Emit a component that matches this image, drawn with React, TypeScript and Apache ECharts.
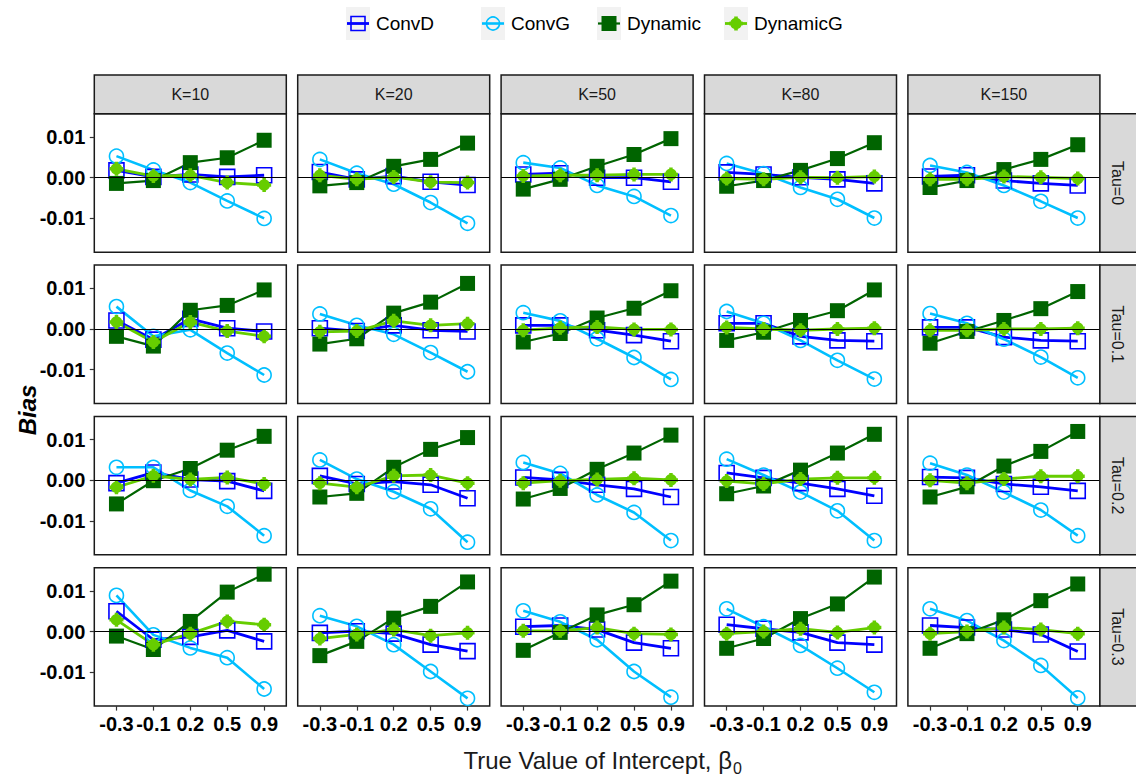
import React, { useEffect, useRef } from "react";
import * as echarts from "echarts";

const betaLabels = ["-0.3", "-0.1", "0.2", "0.5", "0.9"];
const kLabels = ["K=10", "K=20", "K=50", "K=80", "K=150"];
const tauLabels = ["Tau=0", "Tau=0.1", "Tau=0.2", "Tau=0.3"];
const methods = ["ConvD", "ConvG", "Dynamic", "DynamicG"];
const yTicks = [-0.01, 0, 0.01];

// rows of each array: K = 10, 20, 50, 80, 150 ; columns: beta0 = -0.3, -0.1, 0.2, 0.5, 0.9
const convD_t0 = [
  [0.0018, 0.0002, 0.0008, 0.0002, 0.0006],
  [0.0014, -0.0004, 0.0004, -0.001, -0.0018],
  [0.0008, 0.0011, 0.0, 0.0, -0.001],
  [0.0013, 0.0008, 0.0001, -0.0004, -0.0014],
  [0.0003, 0.0006, -0.0007, -0.0014, -0.0019],
];
const convG_t0 = [
  [0.0053, 0.0019, -0.0012, -0.0057, -0.01],
  [0.0045, 0.0011, -0.0016, -0.0061, -0.0112],
  [0.0037, 0.0024, -0.0019, -0.0046, -0.0093],
  [0.0035, 0.001, -0.0024, -0.0053, -0.0099],
  [0.003, 0.0013, -0.0019, -0.0058, -0.0099],
];
const dynamic_t0 = [
  [-0.0014, -0.0007, 0.0037, 0.0049, 0.0092],
  [-0.002, -0.0012, 0.0028, 0.0045, 0.0085],
  [-0.0028, -0.0004, 0.0028, 0.0057, 0.0096],
  [-0.0021, -0.0007, 0.0018, 0.0047, 0.0086],
  [-0.0024, -0.0007, 0.002, 0.0045, 0.0081],
];
const dynamicG_t0 = [
  [0.0022, 0.0004, 0.0006, -0.0012, -0.0018],
  [0.0006, -0.0004, 0.0002, -0.0011, -0.0012],
  [0.0004, 0.0006, 0.0006, 0.0008, 0.0008],
  [-0.0002, -0.0004, 0.0001, 0.0, 0.0003],
  [-0.0004, -0.0004, 0.0003, 0.0001, -0.0002],
];

const convD_t1 = [
  [0.0021, -0.0026, 0.0025, 0.0002, -0.0006],
  [0.0002, -0.0005, 0.0009, -0.0003, -0.0006],
  [0.0009, 0.0009, -0.0003, -0.0015, -0.003],
  [0.0014, 0.0014, -0.0018, -0.0028, -0.003],
  [0.0004, 0.0004, -0.002, -0.0028, -0.003],
];
const convG_t1 = [
  [0.0055, -0.0018, -0.0002, -0.0059, -0.0113],
  [0.0037, 0.0009, -0.0013, -0.0058, -0.0105],
  [0.004, 0.002, -0.0024, -0.007, -0.0124],
  [0.0043, 0.0014, -0.0028, -0.0077, -0.0123],
  [0.0038, 0.0014, -0.0025, -0.0069, -0.012],
];
const dynamic_t1 = [
  [-0.0018, -0.0042, 0.0046, 0.0058, 0.0096],
  [-0.0037, -0.0024, 0.0039, 0.0066, 0.0112],
  [-0.0032, -0.0011, 0.0027, 0.0051, 0.0094],
  [-0.0028, -0.0008, 0.0021, 0.0045, 0.0096],
  [-0.0035, -0.0006, 0.0021, 0.005, 0.0092],
];
const dynamicG_t1 = [
  [0.0017, -0.0032, 0.0017, -0.0005, -0.0018],
  [-0.0007, -0.0005, 0.002, 0.0009, 0.0013],
  [-0.0003, 0.0003, 0.0005, -0.0001, -0.0001],
  [0.0004, 0.0, -0.0003, 0.0, 0.0002],
  [-0.0003, -0.0003, 0.0, 0.0, 0.0002],
];

const convD_t2 = [
  [-0.0007, 0.0019, 0.0002, -0.0002, -0.0026],
  [0.0011, -0.0009, -0.0003, -0.0011, -0.0044],
  [0.0007, 0.0001, -0.0011, -0.0021, -0.0041],
  [0.0018, 0.0006, -0.0007, -0.0021, -0.0038],
  [0.0008, 0.0006, -0.0009, -0.0016, -0.0026],
];
const convG_t2 = [
  [0.0032, 0.0032, -0.0025, -0.0064, -0.0136],
  [0.005, 0.0003, -0.0028, -0.007, -0.0152],
  [0.0044, 0.0017, -0.0036, -0.0079, -0.0148],
  [0.0052, 0.0013, -0.0029, -0.0075, -0.0148],
  [0.0042, 0.0013, -0.0029, -0.0073, -0.0136],
];
const dynamic_t2 = [
  [-0.0058, -0.0001, 0.0029, 0.0074, 0.0108],
  [-0.0041, -0.0032, 0.0032, 0.0076, 0.0105],
  [-0.0046, -0.002, 0.0027, 0.0067, 0.0111],
  [-0.0033, -0.0014, 0.0025, 0.0067, 0.0113],
  [-0.0041, -0.0016, 0.0035, 0.0071, 0.012],
];
const dynamicG_t2 = [
  [-0.0017, 0.0011, 0.0002, 0.0007, -0.0009],
  [-0.0007, -0.0017, 0.0011, 0.0013, -0.0007],
  [-0.0007, -0.0001, 0.0002, 0.0005, 0.0001],
  [-0.0002, -0.0009, 0.0003, 0.0006, 0.0006],
  [0.0, -0.0007, 0.0003, 0.001, 0.001],
];

const convD_t3 = [
  [0.005, -0.002, -0.0013, 0.0003, -0.0024],
  [-0.0003, 0.0001, -0.0005, -0.0032, -0.0048],
  [0.0012, 0.0015, 0.0005, -0.0027, -0.0041],
  [0.0017, 0.0007, -0.0002, -0.0027, -0.0032],
  [0.0015, 0.001, 0.0005, -0.0007, -0.0049],
];
const convG_t3 = [
  [0.0089, -0.0008, -0.004, -0.0064, -0.0141],
  [0.0039, 0.0013, -0.0032, -0.0098, -0.0164],
  [0.0051, 0.0024, -0.002, -0.0098, -0.0161],
  [0.0056, 0.0012, -0.0034, -0.009, -0.0149],
  [0.0056, 0.0027, -0.0022, -0.0083, -0.0163],
];
const dynamic_t3 = [
  [-0.0011, -0.0044, 0.0025, 0.0097, 0.0141],
  [-0.0059, -0.0024, 0.0033, 0.0062, 0.0122],
  [-0.0046, -0.0002, 0.0041, 0.0066, 0.0124],
  [-0.0041, -0.0017, 0.0032, 0.0068, 0.0134],
  [-0.0041, -0.0005, 0.0029, 0.0076, 0.0117],
];
const dynamicG_t3 = [
  [0.0029, -0.0032, -0.0005, 0.0025, 0.0017],
  [-0.0017, -0.0007, 0.0005, -0.001, -0.0003],
  [0.0002, 0.0002, 0.001, -0.0005, -0.0007],
  [-0.0005, 0.0, 0.0007, -0.0002, 0.001],
  [-0.0005, 0.0, 0.001, 0.0005, -0.0005],
];

const dataByTau = [
  [convD_t0, convG_t0, dynamic_t0, dynamicG_t0],
  [convD_t1, convG_t1, dynamic_t1, dynamicG_t1],
  [convD_t2, convG_t2, dynamic_t2, dynamicG_t2],
  [convD_t3, convG_t3, dynamic_t3, dynamicG_t3],
];

const COLORS = ["#0000FF", "#00BFFF", "#006400", "#66CD00"];
const LINE_W = [2.8, 2.6, 2.2, 2.8];
const FONT = '"Liberation Sans", Arial, sans-serif';
// filled circle with a plus through it
const PLUS_CIRCLE =
  "path://M4.5 0H7.5V4.5H12V7.5H7.5V12H4.5V7.5H0V4.5H4.5Z " +
  "M6 1C8.761 1 11 3.239 11 6C11 8.761 8.761 11 6 11C3.239 11 1 8.761 1 6C1 3.239 3.239 1 6 1Z";

const L0 = 94.3;
const CP = 203.4;
const PW = 192;
const T0 = 113.8;
const RP = 151.3;
const PH = 138.4;
const Y_MIN = -0.0183;
const Y_MAX = 0.0157;

function buildOption() {
  const grid: any[] = [];
  const xAxis: any[] = [];
  const yAxis: any[] = [];
  const series: any[] = [];
  const graphic: any[] = [];

  for (let r = 0; r < 4; r++) {
    for (let c = 0; c < 5; c++) {
      const gi = r * 5 + c;
      grid.push({
        left: L0 + c * CP,
        top: T0 + r * RP,
        width: PW,
        height: PH,
        show: true,
        backgroundColor: "#fff",
        borderColor: "#1a1a1a",
        borderWidth: 1.5,
      });
      xAxis.push({
        gridIndex: gi,
        type: "value",
        position: "bottom",
        min: -0.6,
        max: 4.6,
        axisLine: { show: false, onZero: false },
        splitLine: { show: false },
        axisTick: {
          show: r === 3,
          customValues: [0, 1, 2, 3, 4],
          length: 4.5,
          lineStyle: { color: "#333", width: 1.2 },
        },
        axisLabel: {
          show: r === 3,
          customValues: [0, 1, 2, 3, 4],
          formatter: (v: number) => betaLabels[Math.round(v)],
          color: "#000",
          fontWeight: "bold",
          fontSize: 20,
          fontFamily: FONT,
          margin: 8,
        },
      });
      yAxis.push({
        gridIndex: gi,
        type: "value",
        position: "left",
        min: Y_MIN,
        max: Y_MAX,
        axisLine: { show: false, onZero: false },
        splitLine: { show: false },
        axisTick: {
          show: c === 0,
          customValues: yTicks,
          length: 4.5,
          lineStyle: { color: "#333", width: 1.2 },
        },
        axisLabel: {
          show: c === 0,
          customValues: yTicks,
          formatter: (v: number) => v.toFixed(2),
          color: "#000",
          fontWeight: "bold",
          fontSize: 20,
          fontFamily: FONT,
          margin: 9,
        },
      });

      const sets = dataByTau[r];
      methods.forEach((m, mi) => {
        const vals = sets[mi][c];
        const s: any = {
          name: m,
          type: "line",
          xAxisIndex: gi,
          yAxisIndex: gi,
          data: vals.map((v: number, i: number) => [i, v]),
          showSymbol: false,
          symbol: "none",
          silent: true,
          z: 2,
          lineStyle: { color: COLORS[mi], width: LINE_W[mi] },
        };
        if (mi === 0) {
          s.markLine = {
            silent: true,
            symbol: "none",
            label: { show: false },
            lineStyle: { color: "#000", width: 1.2, type: "solid" },
            data: [{ yAxis: 0 }],
          };
        }
        series.push(s);
      });
      methods.forEach((m, mi) => {
        const vals = sets[mi][c];
        const base: any = {
          name: m,
          type: "scatter",
          xAxisIndex: gi,
          yAxisIndex: gi,
          data: vals.map((v: number, i: number) => [i, v]),
          silent: true,
          z: 3,
        };
        if (mi === 0) {
          base.symbol = "rect";
          base.symbolSize = 15;
          base.itemStyle = { color: "rgba(0,0,0,0)", borderColor: COLORS[0], borderWidth: 1.6, opacity: 1 };
        } else if (mi === 1) {
          base.symbol = "circle";
          base.symbolSize = 14;
          base.itemStyle = { color: "rgba(0,0,0,0)", borderColor: COLORS[1], borderWidth: 1.6, opacity: 1 };
        } else if (mi === 2) {
          base.symbol = "rect";
          base.symbolSize = 15;
          base.itemStyle = { color: COLORS[2], opacity: 1 };
        } else {
          base.symbol = PLUS_CIRCLE;
          base.symbolSize = 14;
          base.itemStyle = { color: COLORS[3], opacity: 1 };
        }
        series.push(base);
      });
    }
  }

  kLabels.forEach((k, c) => {
    const x = L0 + c * CP;
    graphic.push({
      type: "rect",
      shape: { x, y: 75, width: PW, height: T0 - 75 },
      style: { fill: "#D9D9D9", stroke: "#1a1a1a", lineWidth: 1.5 },
      z: 10,
    });
    graphic.push({
      type: "text",
      x: x + PW / 2,
      y: (75 + T0) / 2,
      style: {
        text: k,
        font: `16px ${FONT}`,
        fill: "#1a1a1a",
        textAlign: "center",
        textVerticalAlign: "middle",
        align: "center",
        verticalAlign: "middle",
      },
      z: 11,
    });
  });
  const rx = L0 + 4 * CP + PW;
  tauLabels.forEach((t, r) => {
    const y = T0 + r * RP;
    graphic.push({
      type: "rect",
      shape: { x: rx, y, width: 38, height: PH },
      style: { fill: "#D9D9D9", stroke: "#1a1a1a", lineWidth: 1.5 },
      z: 10,
    });
    graphic.push({
      type: "text",
      x: rx + 18,
      y: y + PH / 2,
      rotation: -Math.PI / 2,
      style: {
        text: t,
        font: `16px ${FONT}`,
        fill: "#1a1a1a",
        textAlign: "center",
        textVerticalAlign: "middle",
        align: "center",
        verticalAlign: "middle",
      },
      z: 11,
    });
  });

  const keyX = [346, 481, 597, 724];
  const keyW = 24;
  const keyTop = 7;
  const keyH = 33;
  const cy = keyTop + keyH / 2;
  methods.forEach((m, mi) => {
    const x = keyX[mi];
    const cx = x + keyW / 2;
    graphic.push({
      type: "rect",
      shape: { x, y: keyTop, width: keyW, height: keyH },
      style: { fill: "#F2F2F2" },
      z: 10,
    });
    graphic.push({
      type: "line",
      shape: { x1: x + 1, y1: cy, x2: x + keyW - 1, y2: cy },
      style: { stroke: COLORS[mi], lineWidth: LINE_W[mi] },
      z: 11,
    });
    if (mi === 0) {
      graphic.push({
        type: "rect",
        shape: { x: cx - 7, y: cy - 7, width: 14, height: 14 },
        style: { fill: "none", stroke: COLORS[0], lineWidth: 1.6 },
        z: 12,
      });
    } else if (mi === 1) {
      graphic.push({
        type: "circle",
        shape: { cx, cy, r: 6.5 },
        style: { fill: "none", stroke: COLORS[1], lineWidth: 1.6 },
        z: 12,
      });
    } else if (mi === 2) {
      graphic.push({
        type: "rect",
        shape: { x: cx - 7.5, y: cy - 7.5, width: 15, height: 15 },
        style: { fill: COLORS[2] },
        z: 12,
      });
    } else {
      graphic.push({
        type: "group",
        z: 12,
        children: [
          { type: "circle", shape: { cx, cy, r: 5.8 }, style: { fill: COLORS[3] }, z: 12 },
          { type: "rect", shape: { x: cx - 1.8, y: cy - 7, width: 3.6, height: 14 }, style: { fill: COLORS[3] }, z: 12 },
          { type: "rect", shape: { x: cx - 7, y: cy - 1.8, width: 14, height: 3.6 }, style: { fill: COLORS[3] }, z: 12 },
        ],
      });
    }
    graphic.push({
      type: "text",
      x: x + keyW + 6,
      y: cy,
      style: {
        text: m,
        font: `19px ${FONT}`,
        fill: "#000",
        textAlign: "left",
        textVerticalAlign: "middle",
        align: "left",
        verticalAlign: "middle",
      },
      z: 11,
    });
  });

  graphic.push({
    type: "text",
    x: 27,
    y: T0 + (3 * RP + PH) / 2,
    rotation: Math.PI / 2,
    style: {
      text: "Bias",
      font: `italic bold 24px ${FONT}`,
      fill: "#000",
      textAlign: "center",
      textVerticalAlign: "middle",
      align: "center",
      verticalAlign: "middle",
    },
    z: 11,
  });
  graphic.push({
    type: "text",
    x: 732,
    y: 760,
    style: {
      text: "True Value of Intercept, \u03b2",
      font: `24px ${FONT}`,
      fill: "#1a1a1a",
      textAlign: "right",
      textVerticalAlign: "middle",
      align: "right",
      verticalAlign: "middle",
    },
    z: 11,
  });
  graphic.push({
    type: "text",
    x: 733,
    y: 768,
    style: {
      text: "0",
      font: `16px ${FONT}`,
      fill: "#1a1a1a",
      textAlign: "left",
      textVerticalAlign: "middle",
      align: "left",
      verticalAlign: "middle",
    },
    z: 11,
  });

  return {
    animation: false,
    backgroundColor: "#fff",
    grid,
    xAxis,
    yAxis,
    series,
    graphic,
  };
}

export default function App() {
  const ref = useRef<HTMLDivElement>(null);
  useEffect(() => {
    document.body.style.margin = "0";
    const chart = echarts.init(ref.current as HTMLDivElement, null, { renderer: "svg" });
    chart.setOption(buildOption() as any);
    return () => chart.dispose();
  }, []);
  return <div ref={ref} style={{ width: 1136, height: 779 }} />;
}
